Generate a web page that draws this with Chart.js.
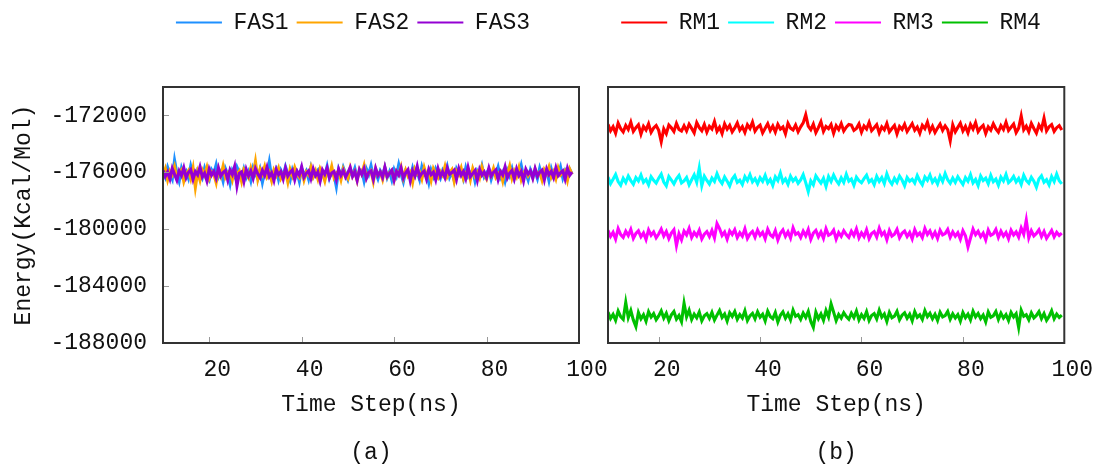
<!DOCTYPE html>
<html>
<head>
<meta charset="utf-8">
<script src="https://cdn.jsdelivr.net/npm/chart.js"></script>
<style>
    html, body { margin: 0; padding: 0; background: #fff; }
    #wrap { position: relative; width: 1098px; height: 467px; overflow: hidden; }
    #panelA { position: absolute; left: 0; top: 0; }
    #panelB { position: absolute; left: 564px; top: 0; }
</style>
</head>
<body>
<div id="wrap">
    <canvas id="panelA" width="706" height="467"></canvas>
    <canvas id="panelB" width="534" height="467"></canvas>
</div>
<script>
// Time axis (ns)
const timeNs = [
    10,10.5,11,11.5,12,12.5,13,13.5,14,14.5,15,15.5,16,16.5,17,17.5,18,18.5,19,19.5,
    20,20.5,21,21.5,22,22.5,23,23.5,24,24.5,25,25.5,26,26.5,27,27.5,28,28.5,29,29.5,
    30,30.5,31,31.5,32,32.5,33,33.5,34,34.5,35,35.5,36,36.5,37,37.5,38,38.5,39,39.5,
    40,40.5,41,41.5,42,42.5,43,43.5,44,44.5,45,45.5,46,46.5,47,47.5,48,48.5,49,49.5,
    50,50.5,51,51.5,52,52.5,53,53.5,54,54.5,55,55.5,56,56.5,57,57.5,58,58.5,59,59.5,
    60,60.5,61,61.5,62,62.5,63,63.5,64,64.5,65,65.5,66,66.5,67,67.5,68,68.5,69,69.5,
    70,70.5,71,71.5,72,72.5,73,73.5,74,74.5,75,75.5,76,76.5,77,77.5,78,78.5,79,79.5,
    80,80.5,81,81.5,82,82.5,83,83.5,84,84.5,85,85.5,86,86.5,87,87.5,88,88.5,89,89.5,
    90,90.5,91,91.5,92,92.5,93,93.5,94,94.5,95,95.5,96,96.5,97,97.5,98,98.5,99,99.5
];

const xTicks = [20, 40, 60, 80, 100];
const yTicks = [-188000, -184000, -180000, -176000, -172000];

// Panel (a)
const fas1 = [
    -175880,-176320,-175640,-176110,-176480,-175150,-176050,-176620,-175720,-176240,-175930,-176410,-175560,-176180,-176700,-175850,-176030,-176390,-175710,-176260,
    -176540,-175810,-176090,-175470,-176330,-175980,-176610,-175740,-176150,-176820,-175900,-176270,-175630,-176010,-176450,-175780,-176360,-175950,-176580,-175690,
    -176120,-176430,-175820,-176700,-175940,-176210,-175280,-176340,-176060,-175760,-176490,-175870,-176250,-175610,-176130,-176560,-175830,-176290,-175990,-176640,
    -175730,-176180,-175900,-176470,-175680,-176320,-176040,-175840,-176530,-175970,-176230,-175580,-176400,-175910,-176160,-177000,-175800,-176280,-175650,-176090,
    -176510,-175930,-176200,-175720,-176380,-176010,-175870,-176600,-175760,-176150,-175540,-176310,-176020,-176450,-175890,-176190,-175670,-176370,-175960,-176530,
    -175810,-176240,-175450,-176120,-176660,-175920,-176080,-176390,-175700,-176270,-175980,-176500,-175620,-176170,-176040,-176730,-175850,-176300,-175750,-176110,
    -176420,-175880,-176220,-175600,-176350,-175990,-176570,-175770,-176140,-175930,-176460,-175690,-176280,-176050,-175830,-176610,-175910,-176200,-175560,-176330,
    -176070,-175780,-176490,-175950,-176180,-175640,-176360,-176000,-176620,-175860,-176250,-175730,-176410,-175970,-176130,-175510,-176290,-176060,-176540,-175820,
    -176190,-175940,-176440,-175700,-176230,-176010,-175870,-176580,-175760,-176320,-175990,-176150,-175620,-176400,-175900,-176270,-175800,-176120
];
const fas2 = [
    -176240,-175760,-176530,-175920,-176180,-175610,-176370,-176050,-175830,-176640,-176110,-175880,-176450,-175700,-177050,-175990,-176560,-175840,-176200,-175650,
    -176410,-175960,-176130,-176720,-175790,-176260,-175570,-176340,-176020,-175880,-176500,-175740,-176190,-175930,-176620,-175810,-176080,-176380,-175690,-176230,
    -175250,-176470,-175780,-176150,-175600,-176310,-176000,-176590,-175850,-176210,-175720,-176420,-176070,-175940,-176680,-175800,-176250,-175660,-176120,-176350,
    -175830,-176540,-175970,-176190,-175640,-176300,-175890,-176460,-175750,-176090,-176610,-175870,-176230,-175580,-176360,-176040,-175920,-176520,-175770,-176160,
    -176430,-175690,-176270,-175950,-176580,-175820,-176110,-175530,-176390,-176060,-175900,-176650,-175760,-176200,-175980,-176490,-175710,-176320,-176030,-175860,
    -176550,-175930,-176170,-175620,-176400,-175850,-176280,-176010,-176700,-175780,-176140,-175960,-176460,-175670,-176240,-175890,-176560,-175740,-176090,-176370,
    -175940,-176210,-175600,-176330,-176050,-175810,-176630,-175920,-176180,-175700,-176440,-176000,-175860,-176520,-175750,-176260,-175990,-176390,-175640,-176150,
    -176470,-175880,-176220,-175730,-176350,-176070,-175950,-176600,-175790,-176130,-175560,-176410,-175910,-176290,-175680,-176500,-176020,-175840,-176240,-175970,
    -176380,-175760,-176170,-175990,-176540,-175820,-176100,-175630,-176330,-175960,-176450,-175710,-176200,-176030,-175870,-176560,-175780,-176140
];
const fas3 = [
    -175850,-176290,-175980,-176460,-175720,-176140,-176550,-175900,-176230,-175680,-176370,-176010,-175810,-176490,-175940,-176180,-175620,-176320,-176060,-176600,
    -175770,-176200,-175930,-176410,-175700,-176270,-176020,-175880,-176530,-175820,-176150,-175590,-176950,-176080,-175960,-176640,-175790,-176250,-175910,-176430,
    -175740,-176110,-176380,-175860,-176220,-175650,-176300,-176040,-176570,-175800,-176170,-175950,-176470,-175710,-176260,-176000,-175840,-176520,-175920,-176190,
    -175610,-176350,-176070,-175890,-176440,-175760,-176240,-175980,-176610,-175830,-176130,-175690,-176390,-176050,-175940,-176500,-175780,-176210,-175870,-176330,
    -176020,-175660,-176280,-175950,-176560,-175810,-176160,-175740,-176420,-176010,-175900,-176480,-175720,-176230,-175970,-176360,-175640,-176300,-176080,-175860,
    -176540,-175930,-176190,-175700,-176400,-176040,-175820,-176590,-175890,-176250,-175580,-176330,-176060,-175910,-176460,-175780,-176170,-175990,-176520,-175750,
    -176280,-175960,-176370,-175690,-176140,-176020,-175850,-176490,-175730,-176210,-175940,-176430,-175660,-176310,-176090,-175880,-176570,-175800,-176200,-175970,
    -176350,-175710,-176260,-176000,-175830,-176510,-175920,-176180,-175620,-176390,-176050,-175870,-176450,-175760,-176230,-175950,-176600,-175790,-176120,-175900,
    -176410,-175740,-176280,-175990,-175850,-176520,-175770,-176170,-175930,-176360,-175680,-176240,-176030,-175890,-176470,-175720,-176200,-175980
];

// Panel (b)
const rm1 = [
    -172620,-173080,-172790,-173250,-172540,-172930,-173160,-172700,-172990,-172480,-173120,-172860,-172650,-173310,-172770,-173020,-172590,-173190,-172880,-172710,
    -173050,-173850,-172940,-173280,-172680,-172870,-173130,-172560,-172980,-173100,-172730,-173090,-172620,-172910,-173220,-172500,-172850,-173070,-172640,-173180,
    -172760,-172950,-172430,-173110,-172820,-173270,-172600,-172970,-172700,-173150,-172880,-172530,-173040,-172790,-173200,-172660,-172920,-172470,-173100,-172840,
    -172690,-173230,-172900,-172580,-173060,-172740,-173170,-172630,-172960,-172810,-173290,-172550,-172890,-173020,-172670,-173140,-172800,-172520,-171950,-172750,
    -173000,-172610,-173210,-172860,-172440,-173120,-172780,-172930,-172640,-173260,-172720,-172990,-172570,-173100,-172830,-172640,-172680,-173050,-172910,-172600,
    -173180,-172740,-172950,-172490,-173070,-172870,-172650,-173230,-172800,-173010,-172560,-173160,-172920,-172700,-173300,-172780,-172980,-172620,-173130,-172850,
    -172580,-173040,-172810,-173250,-172690,-172930,-172470,-173110,-172760,-173200,-172890,-172610,-173050,-172730,-172990,-173780,-172660,-173150,-172840,-172540,
    -173090,-172770,-173220,-172640,-172960,-172510,-173140,-172870,-172700,-173270,-172800,-173030,-172590,-172940,-173170,-172720,-172990,-172480,-173060,-172830,
    -172610,-173200,-172890,-172040,-173010,-172750,-173150,-172560,-172920,-173240,-172680,-172980,-172190,-173080,-172790,-172640,-173120,-172860,-172710,-173030
];
const rm2 = [
    -176340,-176790,-176480,-176150,-176650,-176900,-176420,-176720,-176260,-176580,-176830,-176370,-176610,-176190,-176700,-176500,-176880,-176310,-176560,-176760,
    -176410,-176130,-176680,-176950,-176290,-176540,-176810,-176450,-176220,-176740,-176600,-176360,-176870,-176520,-176180,-176690,-175700,-176930,-176270,-176570,
    -176820,-176400,-176640,-176100,-176530,-176780,-176330,-176620,-176960,-176470,-176240,-176710,-176550,-176850,-176300,-176590,-176170,-176670,-176440,-176800,
    -176380,-176630,-176210,-176740,-176490,-176920,-176320,-176580,-176050,-176690,-176460,-176840,-176280,-176610,-176400,-176770,-176530,-176160,-176720,-177350,
    -176600,-176880,-176250,-176510,-176760,-176420,-176990,-176300,-176650,-176200,-176560,-176810,-176390,-176710,-176140,-176620,-176470,-176900,-176340,-176580,
    -176730,-176440,-176200,-176680,-176510,-176860,-176290,-176640,-176370,-176790,-176110,-176570,-176830,-176420,-176700,-176260,-176540,-176940,-176360,-176620,
    -176480,-176750,-176230,-176600,-176870,-176330,-176560,-176190,-176690,-176450,-176810,-176280,-176640,-176080,-176520,-176770,-176400,-176710,-176310,-176590,
    -176850,-176370,-176630,-176170,-176740,-176500,-176920,-176260,-176580,-176410,-176800,-176220,-176660,-176470,-176900,-176340,-176610,-176150,-176720,-176550,
    -176290,-176680,-176430,-176840,-176210,-176570,-176760,-176350,-176620,-177050,-176460,-176240,-176700,-176520,-176880,-176300,-176650,-176120,-176590,-176810
];
const rm3 = [
    -180080,-180510,-180220,-180690,-179960,-180380,-180570,-180140,-180450,-180020,-180640,-180300,-180110,-180530,-180260,-180720,-180050,-180420,-180190,-180600,
    -180340,-179990,-180480,-180160,-180660,-180270,-180040,-181150,-180310,-180740,-180130,-180400,-179940,-180580,-180230,-180470,-180070,-180680,-180350,-180170,
    -180520,-180090,-180610,-179600,-179950,-180440,-180200,-180700,-180120,-180370,-180030,-180590,-180250,-180490,-179970,-180650,-180330,-180150,-180560,-180060,
    -180430,-180210,-180670,-180000,-180390,-180540,-180100,-180760,-180290,-180050,-180500,-180180,-180620,-179900,-180360,-180240,-180580,-180130,-180460,-180020,
    -180710,-180270,-180080,-180530,-180190,-180640,-179960,-180420,-180320,-180060,-180690,-180230,-180500,-180110,-180380,-180570,-180140,-180450,-179980,-180610,
    -180250,-180520,-180040,-180660,-180300,-180170,-180550,-179930,-180410,-180200,-180730,-180090,-180480,-180350,-180010,-180600,-180280,-180130,-180510,-180220,
    -180680,-180030,-180440,-180260,-180590,-179950,-180370,-180120,-180540,-180210,-180650,-180070,-180400,-180310,-180020,-180570,-180180,-180490,-180240,-180700,
    -180100,-180460,-181250,-180620,-179990,-180390,-180150,-180530,-180270,-180750,-180060,-180430,-180330,-180010,-180580,-180140,-180480,-180230,-180670,-180080,
    -180410,-180190,-180560,-179920,-180350,-179350,-180610,-180110,-180470,-180300,-180040,-180520,-180160,-180640,-180370,-180090,-180540,-180210,-180440,-180280
];
const rm4 = [
    -185830,-186280,-185990,-186410,-185760,-186150,-186340,-185150,-186220,-185720,-186390,-186850,-185860,-186300,-186010,-186470,-185800,-186180,-185940,-186360,
    -186100,-185750,-186250,-185910,-186430,-186020,-185790,-186320,-186070,-186500,-185200,-186160,-185700,-186350,-185970,-186230,-185820,-186440,-186080,-185930,
    -186270,-185850,-186380,-186040,-185710,-186200,-185960,-186460,-185870,-186130,-185780,-186330,-186000,-186240,-185740,-186420,-186090,-185920,-186310,-185810,
    -186190,-185980,-186450,-185770,-186140,-186290,-185860,-186520,-186050,-185810,-186260,-185940,-186370,-185690,-186120,-186010,-186340,-185890,-186210,-185780,
    -186480,-186900,-185840,-186290,-185950,-186400,-185720,-186170,-185250,-185830,-186430,-185990,-186250,-185870,-186140,-186330,-185900,-186210,-185750,-186370,
    -186000,-186270,-185800,-186420,-186060,-185930,-186310,-185700,-186180,-185960,-186490,-185850,-186230,-186110,-185770,-186360,-186040,-185880,-186260,-185980,
    -186440,-185790,-186200,-186020,-186350,-185730,-186150,-185910,-186300,-185980,-186410,-185840,-186170,-186070,-185780,-186330,-185950,-186240,-186000,-186460,
    -185860,-186220,-185970,-186380,-185760,-186160,-185920,-186290,-186030,-186510,-185820,-186190,-186090,-185790,-186340,-185900,-186250,-186000,-186420,-185850,
    -186170,-185940,-186900,-185700,-186120,-186010,-186370,-185880,-186230,-186060,-185800,-186280,-185930,-186400,-186130,-185740,-186300,-185970,-186210,-186040
];

const FONT = "'Liberation Mono', 'DejaVu Sans Mono', monospace";
const TEXT_COLOR = '#111';

// gnuplot-like frame with small inward ticks
const framePlugin = {
    id: 'frame',
    afterDatasetsDraw(chart, args, opts) {
        const { ctx, chartArea: a, scales } = chart;
        ctx.save();
        ctx.strokeStyle = '#999';
        ctx.lineWidth = 1;
        ctx.beginPath();
        scales.x.ticks.forEach(t => {
            const px = Math.round(scales.x.getPixelForValue(t.value)) + 0.5;
            ctx.moveTo(px, a.bottom);
            ctx.lineTo(px, a.bottom - 6);
        });
        if (opts.yTicks) {
            scales.y.ticks.forEach(t => {
                const py = Math.round(scales.y.getPixelForValue(t.value)) + 0.5;
                ctx.moveTo(a.left, py);
                ctx.lineTo(a.left + 6, py);
            });
        }
        ctx.stroke();
        ctx.strokeStyle = '#333';
        ctx.lineWidth = 2;
        ctx.strokeRect(a.left, a.top, a.right - a.left, a.bottom - a.top);
        ctx.restore();
    }
};

// fixed legend block height so the plot area starts at the same spot in both panels
const legendHeightPlugin = {
    id: 'legendHeight',
    beforeInit(chart, args, opts) {
        const legend = chart.legend;
        if (!legend) return;
        const fit = legend.fit;
        legend.fit = function() {
            fit.call(this);
            this.height = opts.height;
        };
    }
};

function makeLine(label, data, color, order) {
    return {
        label: label,
        data: data,
        borderColor: color,
        backgroundColor: color,
        borderWidth: 3.1,
        pointRadius: 0,
        tension: 0,
        fill: false,
        order: order
    };
}

function legendLabels(chart) {
    // thin line swatches, no outline
    return Chart.defaults.plugins.legend.labels.generateLabels(chart).map(item => {
        item.lineWidth = 0;
        return item;
    });
}

function makePanel(canvasId, datasets, panelLabel, showY, yWidth, padRight) {
    const ctx = document.getElementById(canvasId);
    return new Chart(ctx, {
        type: 'line',
        data: { labels: timeNs, datasets: datasets },
        plugins: [framePlugin, legendHeightPlugin],
        options: {
            responsive: false,
            animation: false,
            events: [],
            layout: { padding: { top: 3, left: 0, right: 0, bottom: 0 } },
            plugins: {
                frame: { yTicks: showY },
                legendHeight: { height: 84 },
                tooltip: { enabled: false },
                legend: {
                    display: true,
                    position: 'top',
                    labels: {
                        boxWidth: 46,
                        boxHeight: 2,
                        padding: 8,
                        color: TEXT_COLOR,
                        font: { family: FONT, size: 23 },
                        generateLabels: legendLabels,
                        sort: (a, b) => a.datasetIndex - b.datasetIndex
                    }
                }
            },
            scales: {
                x: {
                    type: 'linear',
                    min: 10,
                    max: 100,
                    afterBuildTicks: scale => { scale.ticks = xTicks.map(v => ({ value: v })); },
                    afterFit: scale => { scale.height = 124; },
                    grid: { display: false, drawTicks: false },
                    border: { display: false },
                    ticks: {
                        padding: 13,
                        labelOffset: 8,
                        maxRotation: 0,
                        autoSkip: false,
                        color: TEXT_COLOR,
                        font: { family: FONT, size: 23 },
                        callback: v => String(v)
                    },
                    title: {
                        display: true,
                        text: ['Time Step(ns)', '', panelLabel],
                        color: TEXT_COLOR,
                        font: { family: FONT, size: 23, lineHeight: '24px' },
                        padding: { top: 0, bottom: 2 }
                    }
                },
                y: {
                    type: 'linear',
                    min: -188000,
                    max: -170000,
                    afterBuildTicks: scale => { scale.ticks = yTicks.map(v => ({ value: v })); },
                    afterFit: scale => { scale.width = yWidth; },
                    grid: { display: false, drawTicks: false },
                    border: { display: false },
                    ticks: {
                        display: showY,
                        padding: 16,
                        color: TEXT_COLOR,
                        font: { family: FONT, size: 23 },
                        callback: v => String(v)
                    },
                    title: {
                        display: showY,
                        text: 'Energy(Kcal/Mol)',
                        color: TEXT_COLOR,
                        font: { family: FONT, size: 23 },
                        padding: { top: 10, bottom: 0 }
                    }
                },
                // empty right-hand strip, keeps the legend centred over the whole canvas
                yPad: {
                    type: 'linear',
                    position: 'right',
                    display: true,
                    afterFit: scale => { scale.width = padRight; },
                    grid: { display: false, drawTicks: false },
                    border: { display: false },
                    ticks: { display: false }
                }
            }
        }
    });
}

document.addEventListener('DOMContentLoaded', function() {
    makePanel('panelA', [
        makeLine('FAS1', fas1, '#1e90ff', 3),
        makeLine('FAS2', fas2, '#ffa500', 2),
        makeLine('FAS3', fas3, '#9400d3', 1)
    ], '(a)', true, 163, 127);

    makePanel('panelB', [
        makeLine('RM1', rm1, '#ff0000', 1),
        makeLine('RM2', rm2, '#00ffff', 2),
        makeLine('RM3', rm3, '#ff00ff', 3),
        makeLine('RM4', rm4, '#00c000', 4)
    ], '(b)', false, 44, 30);
});
</script>
</body>
</html>
